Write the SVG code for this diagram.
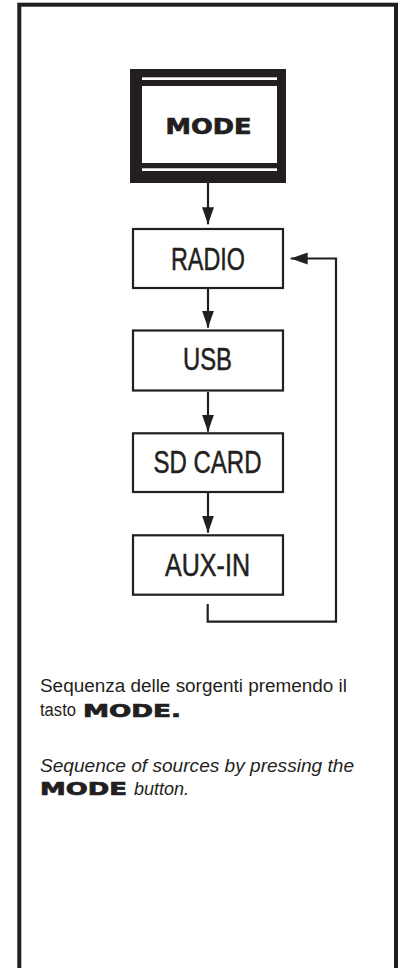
<svg xmlns="http://www.w3.org/2000/svg" width="398" height="968" viewBox="0 0 398 968">
<style>
.box{fill:#fff;stroke:#231f20;stroke-width:2.2}
.lbl{font-family:"Liberation Sans",Arial,sans-serif;font-size:30.5px;fill:#231f20;stroke:#231f20;stroke-width:0.5;text-anchor:middle}
.ext{font-family:"DejaVu Sans",sans-serif;font-weight:bold;fill:#231f20;stroke:#231f20;stroke-width:0.7}
.body{font-family:"Liberation Sans",Arial,sans-serif;font-size:18px;fill:#231f20}
.it{font-style:italic}
.con{fill:none;stroke:#231f20;stroke-width:2.2}
</style>
<defs>
<marker id="ah" markerUnits="userSpaceOnUse" markerWidth="18" markerHeight="13" refX="17" refY="6" orient="auto">
<path d="M0,0 L17,6 L0,12 Z" fill="#231f20"/>
</marker>
</defs>
<rect x="19.3" y="4.7" width="376.7" height="1000" fill="none" stroke="#231f20" stroke-width="4"/>
<g id="node-mode">
<rect x="130" y="69" width="156" height="114" fill="#231f20"/>
<rect x="142" y="86" width="135" height="77" fill="#fff"/>
<rect x="142" y="77.3" width="135" height="2.7" fill="#fff"/>
<rect x="142" y="168.3" width="135" height="2.7" fill="#fff"/>
<text class="ext" x="165.5" y="134" font-size="21" textLength="86" lengthAdjust="spacingAndGlyphs">MODE</text>
</g>
<g id="node-radio">
<rect class="box" x="133" y="229" width="150" height="59"/>
<text class="lbl" x="208" y="270" textLength="74" lengthAdjust="spacingAndGlyphs">RADIO</text>
</g>
<g id="node-usb">
<rect class="box" x="133" y="330.5" width="150" height="60"/>
<text class="lbl" x="207.5" y="370" textLength="49" lengthAdjust="spacingAndGlyphs">USB</text>
</g>
<g id="node-sdcard">
<rect class="box" x="133" y="433.3" width="150" height="58.7"/>
<text class="lbl" x="207.5" y="473.3" textLength="108" lengthAdjust="spacingAndGlyphs">SD CARD</text>
</g>
<g id="node-auxin">
<rect class="box" x="133" y="535.3" width="150" height="59.4"/>
<text class="lbl" x="207.5" y="576" textLength="85" lengthAdjust="spacingAndGlyphs">AUX-IN</text>
</g>
<g id="connectors">
<line class="con" x1="208" y1="183" x2="208" y2="224.3" marker-end="url(#ah)"/>
<line class="con" x1="208" y1="289" x2="208" y2="327.7" marker-end="url(#ah)"/>
<line class="con" x1="208" y1="392" x2="208" y2="431.7" marker-end="url(#ah)"/>
<line class="con" x1="208" y1="493" x2="208" y2="532.7" marker-end="url(#ah)"/>
<path class="con" d="M207.7,604 V621.7 H336 V258.5 H290.7" marker-end="url(#ah)"/>
</g>
<g id="caption">
<text class="body" x="40" y="692" textLength="307" lengthAdjust="spacingAndGlyphs">Sequenza delle sorgenti premendo il</text>
<text class="body" x="40" y="716" textLength="36" lengthAdjust="spacingAndGlyphs">tasto</text>
<text class="ext" x="83" y="716.5" font-size="17" textLength="98" lengthAdjust="spacingAndGlyphs">MODE.</text>
<text class="body it" x="40" y="772" textLength="314" lengthAdjust="spacingAndGlyphs">Sequence of sources by pressing the</text>
<text class="ext" x="40" y="795" font-size="17" textLength="87" lengthAdjust="spacingAndGlyphs">MODE</text>
<text class="body it" x="134" y="795">button.</text>
</g>
</svg>
